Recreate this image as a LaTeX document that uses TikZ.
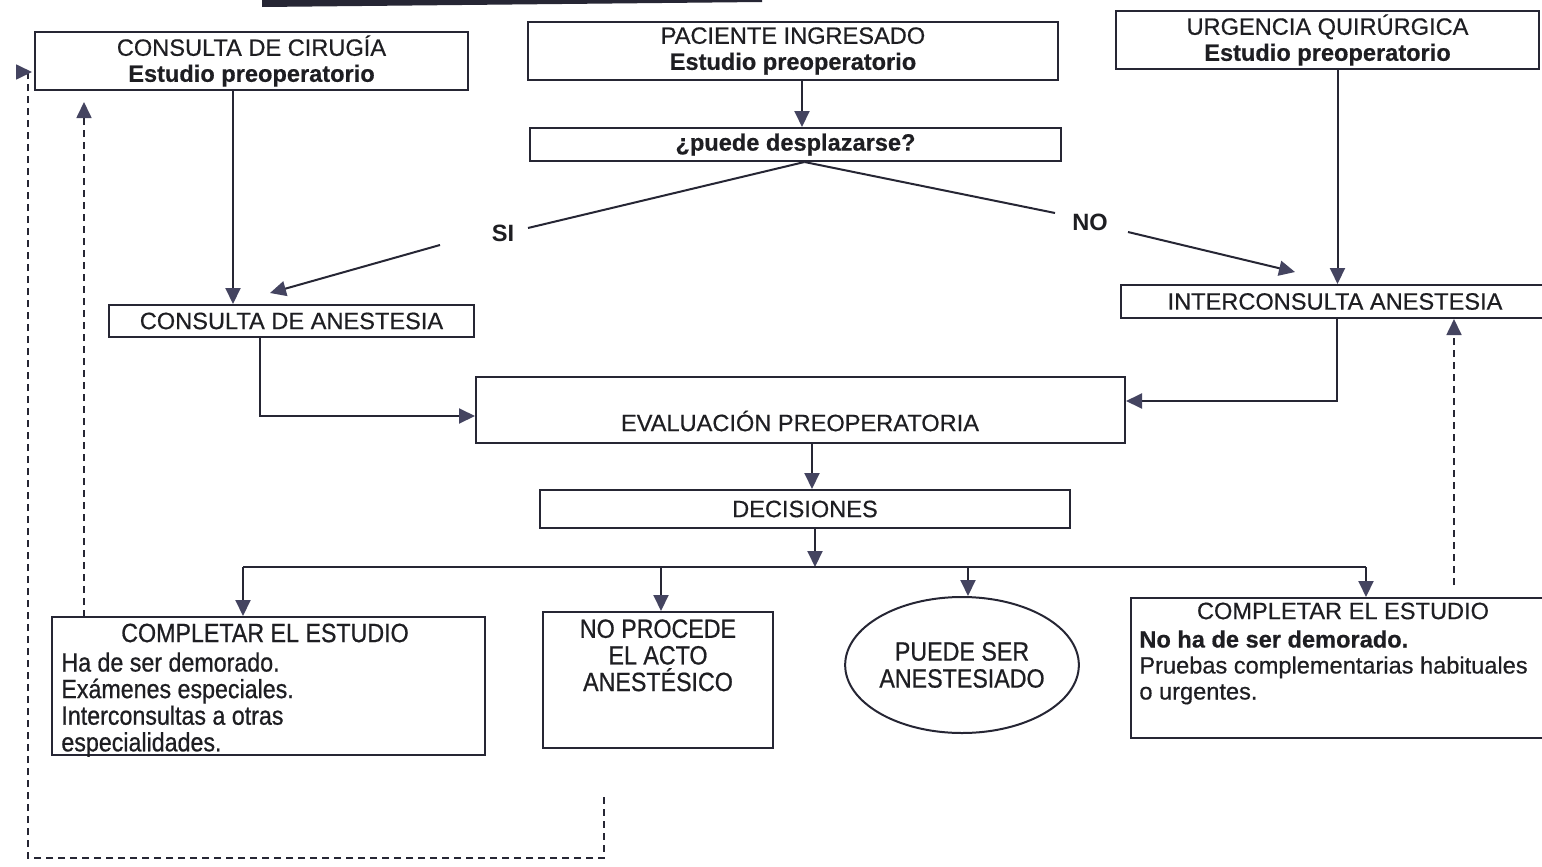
\documentclass[tikz,border=0pt]{standalone}
\usepackage{fontspec}
\setmainfont{Liberation Sans}
\newfontfamily\regf[FakeBold=0.5]{Liberation Sans}
\newfontfamily\narrowf[FakeStretch=0.88,FakeBold=0.7]{Liberation Sans}
\usetikzlibrary{arrows.meta,shapes.geometric}
\definecolor{ink}{RGB}{38,38,52}
\definecolor{head}{RGB}{68,68,96}
\definecolor{txt}{RGB}{30,30,34}
\tikzset{
  box/.style={draw=ink,line width=1pt,rectangle,inner sep=0pt,text=txt,align=center,font=\regf\fontsize{11.8}{13}\selectfont},
  lbl/.style={inner sep=0pt,text=txt,font=\regf\fontsize{11.8}{13}\selectfont},
  blbl/.style={inner sep=0pt,text=txt,font=\bfseries\fontsize{11.8}{13}\selectfont},
  nlbl/.style={inner sep=0pt,text=txt,font=\narrowf\fontsize{13.2}{13.3}\selectfont},
  arr/.style={draw=ink,line width=1pt,-{Triangle[length=8pt,width=7.5pt,color=head]}},
  ln/.style={draw=ink,line width=1pt},
  darr/.style={draw=ink,line width=0.85pt,dash pattern=on 3.5pt off 2.5pt,-{Triangle[length=8pt,width=7.5pt,color=head]}},
}
\begin{document}
\begin{tikzpicture}[x=0.5pt,y=-0.5pt]
\clip (0,0) rectangle (1542,867);
\fill[white] (0,0) rectangle (1542,867);
\fill[ink] (262,0) -- (762,0) -- (762,2) -- (262,7) -- cycle;

% boxes
\node[box,minimum width=216.5pt,minimum height=29pt] (cir) at (251.5,61) {CONSULTA DE CIRUGÍA\\\textbf{Estudio preoperatorio}};
\node[box,minimum width=265pt,minimum height=29pt] (pac) at (793,51) {PACIENTE INGRESADO\\\textbf{Estudio preoperatorio}};
\node[box,minimum width=211.5pt,minimum height=29pt] (urg) at (1327.5,40) {URGENCIA QUIRÚRGICA\\\textbf{Estudio preoperatorio}};
\node[box,minimum width=265.5pt,minimum height=16.5pt] (q) at (795.5,144.5) {\textbf{¿puede desplazarse?}};
\node[blbl] (si) at (503,233) {SI};
\node[blbl] (no) at (1090,222) {NO};
\node[box,minimum width=182.5pt,minimum height=16pt] (ca) at (291.5,321) {CONSULTA DE ANESTESIA};
\node[box,minimum width=214pt,minimum height=16.5pt] (ia) at (1335,301.5) {INTERCONSULTA ANESTESIA};
\node[box,minimum width=324.5pt,minimum height=33pt] (ev) at (800.5,410) {};
\node[lbl] (evt) at (800,421) {EVALUACIÓN PREOPERATORIA};
\node[box,minimum width=265pt,minimum height=19pt] (dec) at (805,509) {DECISIONES};

\node[box,minimum width=216.5pt,minimum height=69pt] (lc) at (268.5,686) {};
\node[nlbl] (lct) at (265,633) {COMPLETAR EL ESTUDIO};
\node[nlbl,anchor=north west,align=left] (lcl) at (61,652) {Ha de ser demorado.\\Exámenes especiales.\\Interconsultas a otras\\especialidades.};

\node[box,minimum width=115pt,minimum height=68pt] (np) at (658,680) {};
\node[nlbl,anchor=north,align=center] (npt) at (658,619) {NO PROCEDE\\EL ACTO\\ANESTÉSICO};

\node[box,ellipse,minimum width=115.5pt,minimum height=68pt,font=\narrowf\fontsize{13.2}{13.5}\selectfont] (ps) at (962,665) {PUEDE SER\\ANESTESIADO};

\node[box,minimum width=212pt,minimum height=70pt] (rc) at (1343,668) {};
\node[lbl] (rct) at (1343,611) {COMPLETAR EL ESTUDIO};
\node[lbl,anchor=north west,align=left] (rcl) at (1139,630) {\textbf{No ha de ser demorado.}\\Pruebas complementarias habituales\\o urgentes.};

% coordinates
\coordinate (siR) at (528,228);
\coordinate (siL) at (440,245);
\coordinate (siT) at (270,293);
\coordinate (noL) at (1055,213);
\coordinate (noR) at (1128,232);
\coordinate (noT) at (1295,272);
\coordinate (bj) at (815,567);
\coordinate (b1) at (243,567);
\coordinate (b2) at (661,567);
\coordinate (b3) at (968,567);
\coordinate (b4) at (1366,567);
\coordinate (lup0) at (84,617);
\coordinate (lup1) at (84,102);
\coordinate (rup0) at (1454,585);
\coordinate (lp0) at (604,797);
\coordinate (lp1) at (604,858);
\coordinate (lp2) at (28,858);
\coordinate (lp3) at (28,72);
\coordinate (lp4) at (32,72);

% connectors
\draw[arr] ([xshift=4.5pt]pac.south) -- ([xshift=4.5pt]pac.south |- q.north);
\draw[arr] ([xshift=-9.25pt]cir.south) -- ([xshift=-9.25pt]cir.south |- ca.north);
\draw[arr] ([xshift=5pt]urg.south) -- ([xshift=5pt]urg.south |- ia.north);
\draw[ln] ([xshift=4.5pt]q.south) -- (siR);
\draw[ln] ([xshift=4.5pt]q.south) -- (noL);
\draw[arr] (siL) -- (siT);
\draw[arr] (noR) -- (noT);
\draw[arr] ([xshift=-15.75pt]ca.south) |- ([yshift=-3pt]ev.west);
\draw[arr] ([xshift=1pt]ia.south) |- ([yshift=4.5pt]ev.east);
\draw[arr] ([xshift=5.75pt]ev.south) -- ([xshift=5.75pt]ev.south |- dec.north);
\draw[arr] ([xshift=5pt]dec.south) -- (bj);
\draw[ln] (b1) -- (b4);
\draw[arr] (b1) -- (b1 |- lc.north);
\draw[arr] (b2) -- (b2 |- np.north);
\draw[arr] (b3) -- (b3 |- ps.north);
\draw[arr] (b4) -- (b4 |- rc.north);
\draw[darr] (lup0) -- (lup1);
\draw[darr] (rup0) -- (rup0 |- ia.south);
\draw[darr] (lp0) -- (lp1) -- (lp2) -- (lp3) -- (lp4);
\end{tikzpicture}
\end{document}
